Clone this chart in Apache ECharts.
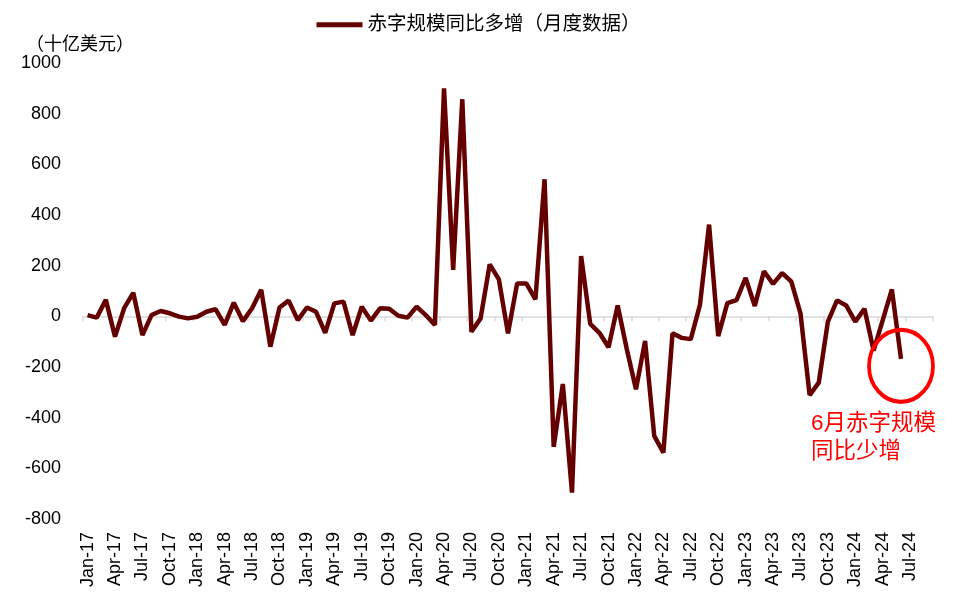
<!DOCTYPE html>
<html>
<head>
<meta charset="utf-8">
<script src="https://cdn.jsdelivr.net/npm/echarts@6/dist/echarts.min.js"></script>
<style>
  html, body { margin: 0; padding: 0; background: #fff; }
  #chart { width: 957px; height: 602px; }
</style>
</head>
<body>
<div id="chart"></div>
<script>
// month labels, axis runs Jan-17 .. Sep-24
var monthNames = ['Jan', 'Feb', 'Mar', 'Apr', 'May', 'Jun', 'Jul', 'Aug', 'Sep', 'Oct', 'Nov', 'Dec'];
var years = ['17', '18', '19', '20', '21', '22', '23', '24'];
var lastMonthIndex = 8; // Sep-24

// 赤字规模同比多增, 十亿美元, Jan-17 .. Jun-24
var deficitYoY = [
  5, -5, 65, -80, 32, 93, -74, 5, 21, 12, -1, -8,
  -2, 18, 28, -34, 54, -19, 32, 105, -120, 35, 62, -15,
  35, 18, -65, 51, 58, -74, 38, -17, 32, 30, 2, -5,
  38, 5, -34, 900, 183, 857, -61, -8, 205, 146, -67, 130,
  130, 67, 541, -515, -267, -696, 238, -30, -65, -122, 43, -130,
  -288, -97, -472, -538, -67, -85, -90, 45, 362, -78, 52, 64,
  152, 41, 178, 128, 171, 137, 12, -311, -262, -21, 63, 43,
  -21, 30, -135, -15, 106, -168
];

var yTicks = { min: -800, max: 1000, interval: 200 };

var categories = [];
years.forEach(function (y, yi) {
  monthNames.forEach(function (m, mi) {
    if (yi === years.length - 1 && mi > lastMonthIndex) return;
    categories.push(m + '-' + y);
  });
});

var font = "'Liberation Sans', Arial, 'Noto Sans CJK SC', sans-serif";
var lineColor = '#650000';
var lastIdx = deficitYoY.length - 1;

var chart = echarts.init(document.getElementById('chart'));

var option = {
  backgroundColor: '#fff',
  animation: false,
  textStyle: { fontFamily: font },
  legend: {
    top: 10,
    left: 'center',
    icon: 'rect',
    itemWidth: 46,
    itemHeight: 5,
    itemGap: 4,
    textStyle: { fontSize: 19.5, color: '#000', fontFamily: font },
    data: ['赤字规模同比多增（月度数据）']
  },
  grid: { left: 83, right: 24, top: 63, bottom: 83 },
  xAxis: [
    {
      type: 'category',
      data: categories,
      position: 'bottom',
      boundaryGap: true,
      axisLine: { show: true, onZero: true, lineStyle: { color: '#d9d9d9', width: 1.5 } },
      axisTick: { show: true, interval: 2, length: 5, lineStyle: { color: '#d9d9d9', width: 1.5 } },
      axisLabel: { show: false },
      splitLine: { show: false }
    },
    {
      type: 'category',
      data: categories,
      position: 'bottom',
      boundaryGap: true,
      axisLine: { show: false, onZero: false },
      axisTick: { show: false },
      axisLabel: {
        show: true,
        interval: 2,
        rotate: 90,
        margin: 13,
        fontSize: 18,
        color: '#000',
        fontFamily: font
      },
      splitLine: { show: false }
    }
  ],
  yAxis: {
    type: 'value',
    min: yTicks.min,
    max: yTicks.max,
    interval: yTicks.interval,
    axisLine: { show: false },
    axisTick: { show: false },
    splitLine: { show: false },
    axisLabel: {
      fontSize: 18,
      color: '#000',
      margin: 22,
      fontFamily: font,
      formatter: function (v) { return String(v); }
    }
  },
  graphic: [
    {
      type: 'text',
      left: 26,
      top: 36,
      style: { text: '（十亿美元）', fontSize: 18, fill: '#000', fontFamily: font }
    },
    {
      type: 'text',
      left: 811,
      top: 410,
      style: {
        text: '6月赤字规模\n同比少增',
        fontSize: 22.5,
        lineHeight: 28,
        fill: '#ff0000',
        fontFamily: font
      }
    }
  ],
  series: [
    {
      name: '赤字规模同比多增（月度数据）',
      type: 'line',
      data: deficitYoY,
      showSymbol: false,
      symbol: 'none',
      lineStyle: { color: lineColor, width: 4.5 },
      itemStyle: { color: lineColor },
      markPoint: {
        silent: true,
        symbol: 'circle',
        symbolSize: [64, 72],
        symbolOffset: [0, 7],
        itemStyle: { color: 'rgba(0,0,0,0)', borderColor: '#ff0000', borderWidth: 4 },
        label: { show: false },
        data: [{ coord: [categories[lastIdx], deficitYoY[lastIdx]] }]
      }
    }
  ]
};

chart.setOption(option);
</script>
</body>
</html>
